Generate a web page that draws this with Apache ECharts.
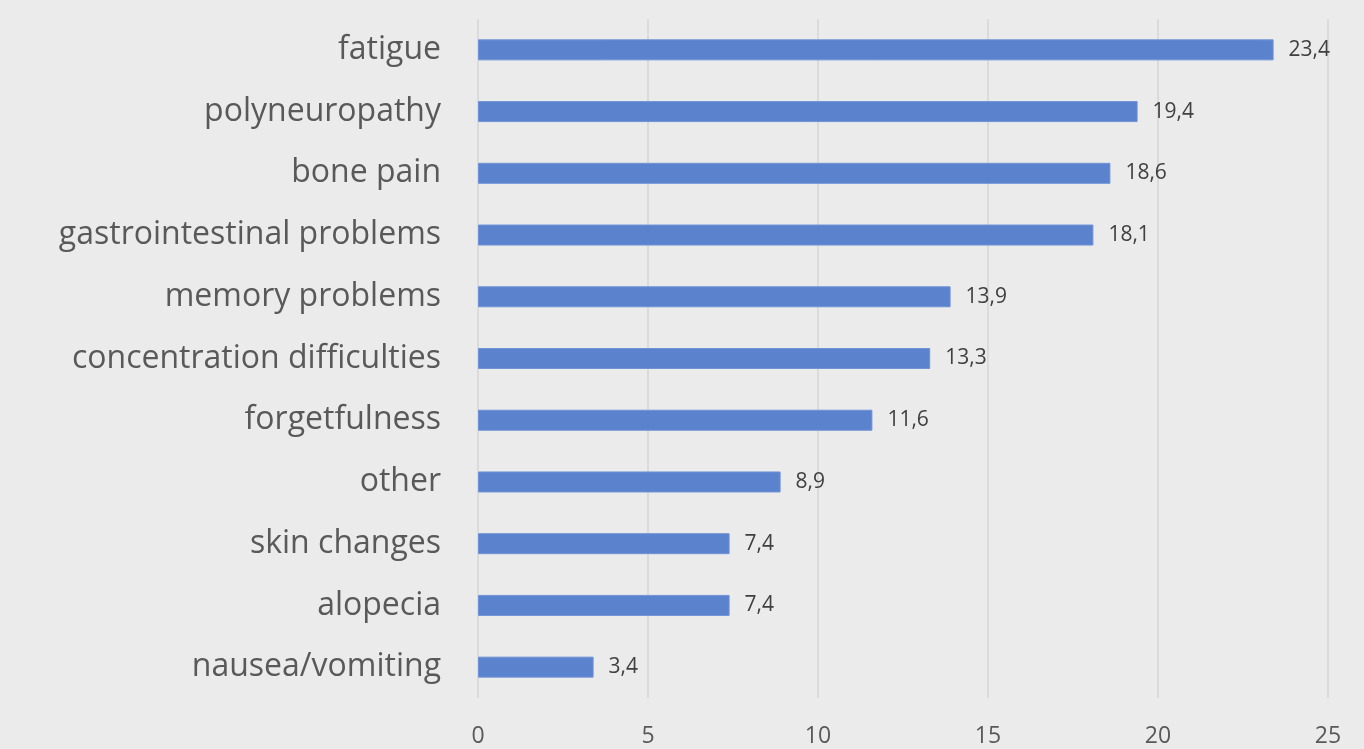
<!DOCTYPE html>
<html>
<head>
<meta charset="utf-8">
<script src="https://cdn.jsdelivr.net/npm/echarts@6/dist/echarts.min.js"></script>
<style>
  html, body { margin: 0; padding: 0; background: #ebebeb; }
  #chart { width: 1364px; height: 749px; }
</style>
</head>
<body>
<div id="chart"></div>
<script>
// Symptoms listed bottom-to-top (value axis runs horizontally)
const categories = [
  'nausea/vomiting', 'alopecia', 'skin changes', 'other', 'forgetfulness',
  'concentration difficulties', 'memory problems', 'gastrointestinal problems',
  'bone pain', 'polyneuropathy', 'fatigue'
];
const values = [3.4, 7.4, 7.4, 8.9, 11.6, 13.3, 13.9, 18.1, 18.6, 19.4, 23.4];
const xTicks = [0, 5, 10, 15, 20, 25];

const fmt = v => String(v).replace('.', ',');

const chart = echarts.init(document.getElementById('chart'), null, { renderer: 'canvas' });
chart.setOption({
  backgroundColor: '#ebebeb',
  animation: false,
  grid: { left: 478, right: 36, top: 19, bottom: 51, containLabel: false },
  xAxis: {
    type: 'value',
    min: xTicks[0],
    max: xTicks[xTicks.length - 1],
    interval: 5,
    axisLine: { show: false },
    axisTick: { show: false },
    splitLine: { show: true, lineStyle: { color: '#d6d6d6', width: 1.5 } },
    axisLabel: {
      color: '#595959', fontSize: 23, fontFamily: 'Open Sans', margin: 27
    }
  },
  yAxis: {
    type: 'category',
    data: categories,
    axisLine: { show: false },
    axisTick: { show: false },
    axisLabel: {
      color: '#595959', fontSize: 32, fontFamily: 'Open Sans', margin: 37,
      padding: [4, 0, 0, 0]
    }
  },
  series: [{
    type: 'bar',
    data: values,
    barWidth: 21,
    itemStyle: { color: '#5a82cd', borderColor: '#6f93d6', borderWidth: 1 },
    label: {
      show: true,
      position: 'right',
      distance: 15,
      color: '#404040',
      fontSize: 21,
      fontFamily: 'Open Sans',
      formatter: p => fmt(p.value)
    }
  }]
});
</script>
</body>
</html>
